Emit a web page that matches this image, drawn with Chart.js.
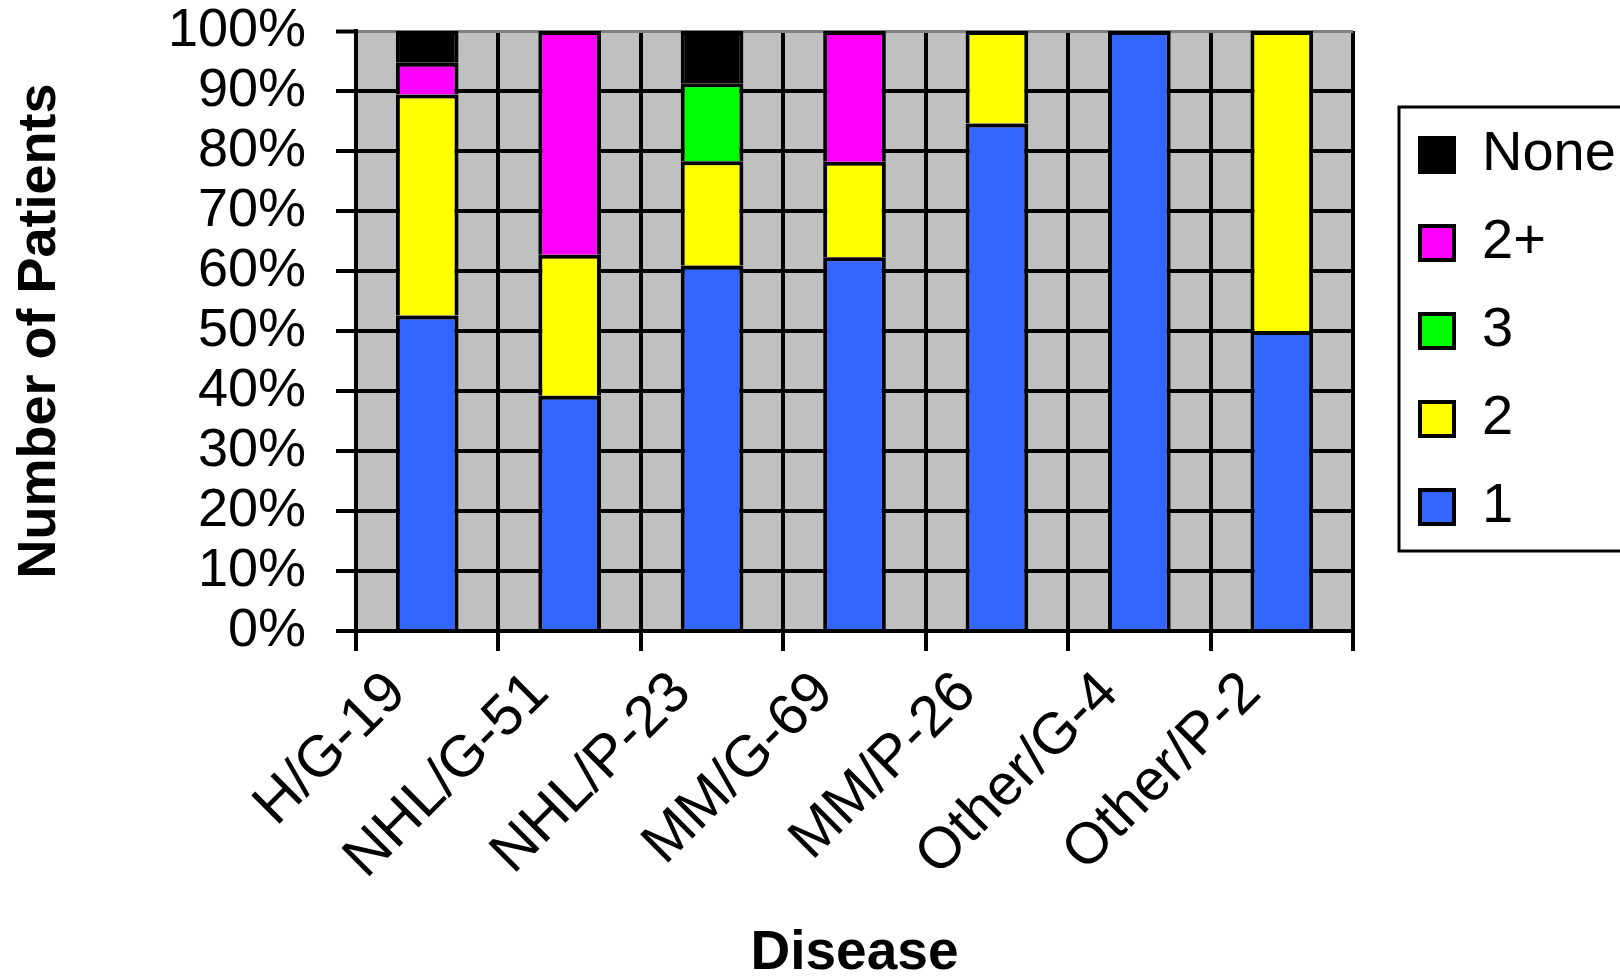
<!DOCTYPE html>
<html>
<head>
<meta charset="utf-8">
<script src="https://cdn.jsdelivr.net/npm/chart.js@4.4.1/dist/chart.umd.min.js"></script>
<style>
  html, body { margin: 0; padding: 0; background: #ffffff; overflow: hidden; }
  #wrap { position: relative; width: 1620px; height: 976px; }
</style>
</head>
<body>
<div id="wrap"><canvas id="chart"></canvas></div>
<script>
// ---- data (percent of patients per disease group) ----
const categories = ['H/G-19', 'NHL/G-51', 'NHL/P-23', 'MM/G-69', 'MM/P-26', 'Other/G-4', 'Other/P-2'];
const seriesNames = ['1', '2', '3', '2+', 'None'];
const valuesOne     = [52.6, 39.2, 60.9, 62.3, 84.6, 100, 50];
const valuesTwo     = [36.8, 23.5, 17.4, 15.9, 15.4, null, 50];
const valuesThree   = [null, null, 13.0, null, null, null, null];
const valuesTwoPlus = [5.3, 37.3, null, 21.8, null, null, null];
const valuesNone    = [5.3, null, 8.7, null, null, null, null];
const yTickValues = [0, 10, 20, 30, 40, 50, 60, 70, 80, 90, 100];
const yTitle = 'Number of Patients';
const xTitle = 'Disease';

const seriesValues = [valuesOne, valuesTwo, valuesThree, valuesTwoPlus, valuesNone];
const seriesColors = ['#3366FF', '#FFFF00', '#00FF00', '#FF00FF', '#000000'];

const FONT = '"Liberation Sans", Arial, Helvetica, sans-serif';

const plotBackground = {
  id: 'plotBackground',
  beforeDraw(chart) {
    const {ctx, chartArea: a} = chart;
    ctx.save();
    ctx.fillStyle = '#C0C0C0';
    ctx.fillRect(a.left, a.top, a.right - a.left, a.bottom - a.top);
    ctx.restore();
  }
};

const legendFrame = {
  id: 'legendFrame',
  afterDraw(chart) {
    const lg = chart.legend;
    if (!lg || !lg.legendHitBoxes || !lg.legendHitBoxes.length) return;
    const hb = lg.legendHitBoxes;
    const first = hb[0], last = hb[hb.length - 1];
    const left = first.left - 21;
    const top = first.top - 20;
    const bottom = last.top + last.height + 16;
    const ctx = chart.ctx;
    ctx.save();
    ctx.strokeStyle = '#000000';
    ctx.lineWidth = 3;
    ctx.strokeRect(left, top, chart.width + 20 - left, bottom - top);
    ctx.restore();
  }
};

const datasets = seriesNames.map((name, i) => ({
  label: name,
  data: seriesValues[i],
  backgroundColor: seriesColors[i],
  borderColor: '#000000',
  borderWidth: 4,
  borderSkipped: 'start',
  barPercentage: 0.44,
  categoryPercentage: 1.0,
  stack: 's'
}));

new Chart(document.getElementById('chart'), {
  type: 'bar',
  data: { labels: categories, datasets },
  plugins: [plotBackground, legendFrame],
  options: {
    responsive: true,
    maintainAspectRatio: false,
    animation: false,
    layout: { padding: { top: 31, left: 0, right: 0, bottom: 0 } },
    plugins: {
      tooltip: { enabled: false },
      legend: {
        position: 'right',
        fullSize: false,
        reverse: true,
        maxWidth: 232,
        labels: {
          color: '#000000',
          font: { family: FONT, size: 56 },
          boxWidth: 34,
          boxHeight: 34,
          padding: 32
        }
      }
    },
    scales: {
      x: {
        stacked: true,
        offset: true,
        grid: {
          offset: true,
          color: (ctx) => ctx.index === categories.length ? '#808080' : '#000000',
          lineWidth: (ctx) => ctx.index === categories.length ? 3 : 4,
          tickColor: '#000000',
          tickWidth: 4,
          tickLength: 20,
          drawTicks: true
        },
        border: { display: true, color: '#000000', width: 4 },
        ticks: {
          color: '#000000',
          font: { family: FONT, size: 58 },
          minRotation: 45,
          maxRotation: 45,
          autoSkip: false,
          padding: 8,
          labelOffset: -30
        },
        title: {
          display: true,
          text: xTitle,
          color: '#000000',
          font: { family: FONT, size: 55, weight: 'bold', lineHeight: 0.8 },
          padding: { top: 0, bottom: 0 }
        },
        afterFit(scale) { scale.height = 345; }
      },
      y: {
        stacked: true,
        min: 0,
        max: 100,
        afterBuildTicks(scale) { scale.ticks = yTickValues.map(v => ({ value: v })); },
        grid: {
          color: (ctx) => (ctx.tick && ctx.tick.value === 100) ? '#808080' : '#000000',
          lineWidth: (ctx) => (ctx.tick && ctx.tick.value === 100) ? 3 : 4,
          tickColor: '#000000',
          tickWidth: 4,
          tickLength: 20
        },
        border: { display: true, color: '#000000', width: 4 },
        ticks: {
          color: '#000000',
          font: { family: FONT, size: 54, lineHeight: 0.02 },
          padding: 30,
          callback: (v) => v + '%'
        },
        title: {
          display: true,
          text: yTitle,
          color: '#000000',
          font: { family: FONT, size: 54, weight: 'bold', lineHeight: 1.0 },
          padding: { top: 13, bottom: 0 }
        },
        afterFit(scale) { scale.width = 356; }
      },
      spacer: {
        type: 'linear',
        position: 'right',
        display: true,
        grid: { display: false, drawTicks: false },
        border: { display: false },
        ticks: { display: false },
        afterFit(scale) { scale.width = 35; }
      }
    }
  }
});
</script>
</body>
</html>
